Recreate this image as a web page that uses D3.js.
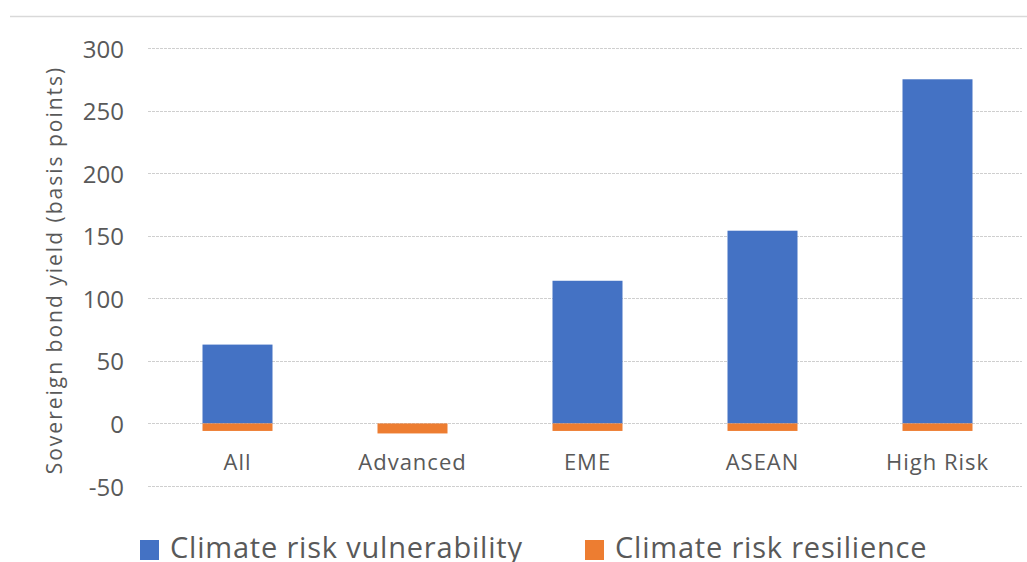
<!DOCTYPE html>
<html><head><meta charset="utf-8">
<script src="https://cdn.jsdelivr.net/npm/d3@7"></script>
<style>body{margin:0;background:#fff;} svg{display:block;}</style>
</head><body>
<svg id="c" width="1027" height="562"></svg>
<script>
const categories = ["All","Advanced","EME","ASEAN","High Risk"];
const vulnerability = [63, 0, 114, 154, 275];
const resilience = [-6, -8, -6, -6, -6];
const yTicks = [-50, 0, 50, 100, 150, 200, 250, 300];
const seriesNames = ["Climate risk vulnerability","Climate risk resilience"];
const colors = ["#4472C4","#ED7D31"];

const svg = d3.select("#c");
const font = "'Open Sans', sans-serif";
const textColor = "#595959";

svg.append("line").attr("x1",10).attr("x2",1027).attr("y1",16.5).attr("y2",16.5)
  .attr("stroke","#d9d9d9").attr("stroke-width",1.5);

const x = d3.scaleBand().domain(categories).range([150,1025]).paddingInner(0.6).paddingOuter(0.3);
const y = d3.scaleLinear().domain([-50,300]).range([486,48]);

// gridlines
svg.append("g").selectAll("line").data(yTicks).join("line")
  .attr("x1",148).attr("x2",1022)
  .attr("y1",d=>Math.round(y(d))+0.5).attr("y2",d=>Math.round(y(d))+0.5)
  .attr("stroke","#cfcfcf").attr("stroke-width",1).attr("stroke-dasharray","3,1");

// y axis labels
const yAxis = d3.axisLeft(y).tickValues(yTicks).tickSize(0).tickPadding(0).tickFormat(d=>String(d));
const gy = svg.append("g").attr("transform","translate(124,0)").call(yAxis);
gy.select(".domain").remove();
gy.selectAll("text").attr("font-family",font).attr("font-size",24).attr("fill",textColor).attr("dy","0.38em");

// x axis labels
const xAxis = d3.axisBottom(x).tickSize(0).tickPadding(0);
const gx = svg.append("g").attr("transform","translate(0,470)").call(xAxis);
gx.select(".domain").remove();
gx.selectAll("text").attr("font-family",font).attr("font-size",22).attr("letter-spacing",1)
  .attr("fill",textColor).attr("dy","0");

// bars
svg.append("g").selectAll("rect").data(vulnerability).join("rect")
  .attr("x",(d,i)=>x(categories[i])).attr("width",x.bandwidth())
  .attr("y",d=>y(Math.max(d,0))).attr("height",d=>Math.abs(y(d)-y(0)))
  .attr("fill",colors[0]);
svg.append("g").selectAll("rect").data(resilience).join("rect")
  .attr("x",(d,i)=>x(categories[i])).attr("width",x.bandwidth())
  .attr("y",d=>y(Math.max(d,0))).attr("height",d=>Math.abs(y(d)-y(0)))
  .attr("fill",colors[1]);

// y title
svg.append("text").attr("transform","translate(62,270) rotate(-90)")
  .attr("text-anchor","middle").attr("font-family",font).attr("font-size",21)
  .attr("letter-spacing",2)
  .attr("fill",textColor).text("Sovereign bond yield (basis points)");

// legend
const legX = [140, 585];
const lg = svg.append("g");
seriesNames.forEach((n,i)=>{
  lg.append("rect").attr("x",legX[i]).attr("y",540).attr("width",19).attr("height",20).attr("fill",colors[i]);
  lg.append("text").attr("x",legX[i]+30).attr("y",558).attr("font-family",font).attr("font-size",29)
    .attr("letter-spacing",0.8)
    .attr("fill",textColor).text(n);
});
</script>
</body></html>
